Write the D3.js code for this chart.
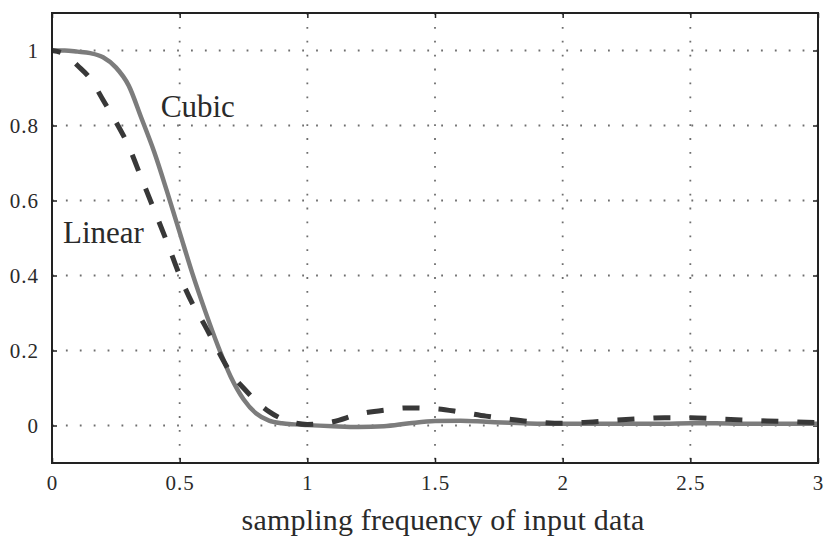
<!DOCTYPE html>
<html>
<head>
<meta charset="utf-8">
<script src="https://cdn.jsdelivr.net/npm/d3@7"></script>
<style>
  body { margin: 0; background: #fff; }
  text { font-family: "Liberation Serif", "DejaVu Serif", serif; fill: #2a2a2a; }
</style>
</head>
<body>
<div id="vis-container"></div>
<script>
// sampling frequency (x) and responses
const freq = [0, 0.05, 0.1, 0.15, 0.2, 0.25, 0.3, 0.35, 0.4, 0.45, 0.5, 0.55, 0.6, 0.65, 0.7, 0.75, 0.8, 0.85, 0.9, 0.95, 1.0,
              1.1, 1.2, 1.3, 1.4, 1.5, 1.6, 1.7, 1.8, 1.9, 2.0, 2.1, 2.2, 2.3, 2.4, 2.5, 2.6, 2.7, 2.8, 2.9, 3.0];
const cubic = [1.0, 1.0, 0.997, 0.993, 0.982, 0.955, 0.907, 0.82, 0.73, 0.625, 0.515, 0.405, 0.305, 0.212, 0.13, 0.07, 0.032, 0.013, 0.006, 0.003, 0.001,
               -0.002, -0.004, -0.002, 0.006, 0.012, 0.013, 0.01, 0.007, 0.005, 0.005, 0.005, 0.005, 0.005, 0.005, 0.006, 0.006, 0.005, 0.005, 0.005, 0.005];
const linear = [1.0, 0.99, 0.96, 0.925, 0.868, 0.81, 0.745, 0.66, 0.575, 0.49, 0.4, 0.325, 0.265, 0.2, 0.14, 0.1, 0.065, 0.037, 0.018, 0.007, 0.003,
                0.01, 0.03, 0.041, 0.047, 0.045, 0.036, 0.025, 0.016, 0.009, 0.006, 0.009, 0.014, 0.018, 0.021, 0.021, 0.018, 0.015, 0.012, 0.01, 0.008];

const xTicks = [0, 0.5, 1, 1.5, 2, 2.5, 3];
const yTicks = [0, 0.2, 0.4, 0.6, 0.8, 1];
const xLabel = "sampling frequency of input data";
const seriesLabels = [
  { name: "Cubic", fx: 0.426, fy: 0.822 },
  { name: "Linear", fx: 0.043, fy: 0.487 }
];

const serif = '"Liberation Serif", "DejaVu Serif", serif';

const margin = { top: 13, right: 6, bottom: 74, left: 52 },
      width = 824 - margin.left - margin.right,
      height = 537 - margin.top - margin.bottom;

const svg = d3.select("#vis-container")
  .append("svg")
    .attr("width", width + margin.left + margin.right)
    .attr("height", height + margin.top + margin.bottom)
  .append("g")
    .attr("transform", `translate(${margin.left},${margin.top})`);

const x = d3.scaleLinear().domain([0, 3]).range([0, width]);
const y = d3.scaleLinear().domain([-0.1, 1.1]).range([height, 0]);

// dotted grid
const grid = svg.append("g")
  .attr("stroke", "#6e6e6e")
  .attr("stroke-width", 1.8)
  .attr("stroke-dasharray", "1.8,12.1");

grid.selectAll(".vg")
  .data(xTicks.slice(1, -1))
  .join("line")
    .attr("x1", d => x(d)).attr("x2", d => x(d))
    .attr("y1", 0).attr("y2", height);

grid.selectAll(".hg")
  .data(yTicks)
  .join("line")
    .attr("x1", 0).attr("x2", width)
    .attr("y1", d => y(d)).attr("y2", d => y(d));

// Axes (MATLAB style, inward ticks on all four sides)
const fmt = d => d3.format("")(d);
const styleLabels = g => g
  .attr("font-family", serif)
  .attr("font-size", 21)
  .selectAll("text")
    .style("font-family", serif)
    .style("font-size", "21px")
    .style("letter-spacing", "1px");

svg.append("g")
  .attr("transform", `translate(0,${height})`)
  .call(d3.axisBottom(x).tickValues(xTicks).tickSize(-5).tickPadding(12).tickFormat(fmt))
  .call(g => g.select(".domain").remove())
  .call(styleLabels);

svg.append("g")
  .call(d3.axisLeft(y).tickValues(yTicks).tickSize(-5).tickPadding(13).tickFormat(fmt))
  .call(g => g.select(".domain").remove())
  .call(styleLabels);

svg.append("g")
  .call(d3.axisTop(x).tickValues(xTicks).tickSize(-5).tickFormat(""))
  .call(g => g.select(".domain").remove());

svg.append("g")
  .attr("transform", `translate(${width},0)`)
  .call(d3.axisRight(y).tickValues(yTicks).tickSize(-5).tickFormat(""))
  .call(g => g.select(".domain").remove());

svg.selectAll(".tick line").attr("stroke", "#222").attr("stroke-width", 1.5);

// Lines
const pts = s => freq.map((f, i) => ({ f, v: s[i] }));
const line = d3.line()
  .x(d => x(d.f))
  .y(d => y(d.v))
  .curve(d3.curveMonotoneX);

svg.append("path")
  .datum(pts(cubic))
  .attr("fill", "none")
  .attr("stroke", "#7c7c7c")
  .attr("stroke-width", 4.5)
  .attr("d", line);

svg.append("path")
  .datum(pts(linear))
  .attr("fill", "none")
  .attr("stroke", "#383838")
  .attr("stroke-width", 5)
  .attr("stroke-dasharray", "17,19")
  .attr("stroke-dashoffset", 8)
  .attr("d", line);

// Box
svg.append("rect")
  .attr("width", width)
  .attr("height", height)
  .attr("fill", "none")
  .attr("stroke", "#222")
  .attr("stroke-width", 2);

// Curve labels
svg.selectAll(".lbl")
  .data(seriesLabels)
  .join("text")
    .attr("x", d => x(d.fx))
    .attr("y", d => y(d.fy))
    .style("font-size", "31px")
    .text(d => d.name);

// X axis title
svg.append("text")
  .attr("x", width / 2 + 8)
  .attr("y", height + 67)
  .attr("text-anchor", "middle")
  .style("font-size", "30px")
  .style("letter-spacing", "0.2px")
  .text(xLabel);
</script>
</body>
</html>
